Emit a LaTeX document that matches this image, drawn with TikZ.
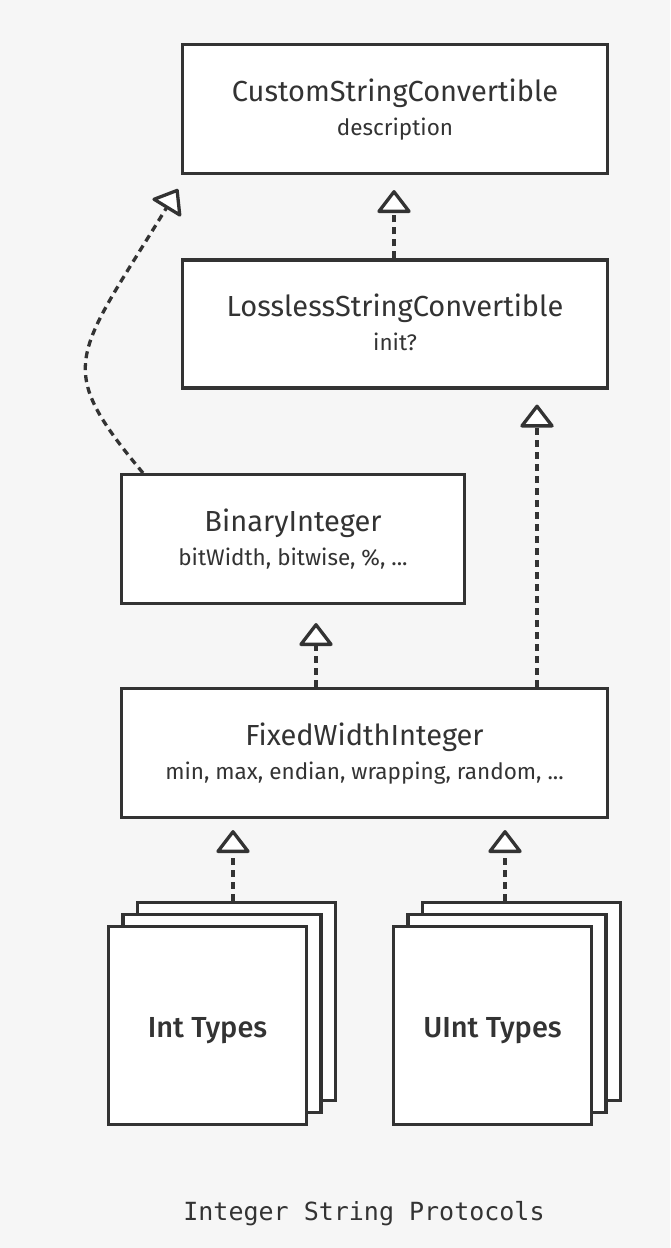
\documentclass[tikz,border=0pt]{standalone}
\usepackage{fontspec}
\setmainfont{Fira Sans}
\newfontfamily\medfont{Fira Sans}[UprightFont=* Medium]
\newfontfamily\capfont{DejaVu Sans Mono}
\usetikzlibrary{arrows.meta}
\definecolor{ink}{HTML}{333333}
\definecolor{bg}{HTML}{F6F6F6}
\tikzset{
  box/.style={draw=ink, line width=3.2pt, fill=white, inner sep=0pt},
  ttl/.style={anchor=base, text=ink, font=\fontsize{29}{32}\selectfont, inner sep=0pt},
  sub/.style={anchor=base, text=ink, font=\fontsize{22.5}{26}\selectfont, inner sep=0pt},
  typ/.style={anchor=base, text=ink, font=\medfont\fontsize{29}{32}\selectfont, inner sep=0pt},
  dep/.style={draw=ink, line width=3.3pt, dash pattern=on 7pt off 5pt,
    -{Triangle[width=36pt,length=24pt,fill=white,round]}}
}
\begin{document}
\begin{tikzpicture}[x=1pt,y=-1pt]
\fill[bg] (0,0) rectangle (670,1248);
\useasboundingbox (0,0) rectangle (670,1248);
% boxes
\node[box, minimum width=425pt, minimum height=129pt] (csc) at (395,109) {};
\node[box, minimum width=425pt, minimum height=128pt] (lsc) at (395,324) {};
\node[box, minimum width=343pt, minimum height=129pt] (bi) at (293,539) {};
\node[box, minimum width=486pt, minimum height=129pt] (fwi) at (364.5,753) {};
% stacked type boxes
\node[box, minimum width=198pt, minimum height=198pt] (intB) at (236.5,1001.5) {};
\node[box, minimum width=198pt, minimum height=198pt] (intM) at (222,1013.5) {};
\node[box, minimum width=198pt, minimum height=198pt] (intF) at (207.5,1025.5) {};
\node[box, minimum width=198pt, minimum height=198pt] (uintB) at (521.5,1001.5) {};
\node[box, minimum width=198pt, minimum height=198pt] (uintM) at (507,1013.5) {};
\node[box, minimum width=198pt, minimum height=198pt] (uintF) at (492.5,1025.5) {};
% texts
\node[ttl] (cscT) at (395,101) {CustomStringConvertible};
\node[sub] (cscS) at (395,135) {description};
\node[ttl] (lscT) at (395,316) {LosslessStringConvertible};
\node[sub] (lscS) at (395,350) {init?};
\node[ttl] (biT) at (293,531) {BinaryInteger};
\node[sub] (biS) at (293,565) {bitWidth, bitwise, \%, ...};
\node[ttl] (fwiT) at (364.5,745) {FixedWidthInteger};
\node[sub] (fwiS) at (364.5,779) {min, max, endian, wrapping, random, ...};
\node[typ] (intT) at (207.5,1037) {Int Types};
\node[typ] (uintT) at (492.5,1037) {UInt Types};
\node[anchor=base, text=ink, inner sep=0pt, font=\capfont\fontsize{25}{28}\selectfont] (cap) at (364,1220) {Integer String Protocols};
% helper x positions
\coordinate (x394) at (394,0);
\coordinate (x316) at (316,0);
\coordinate (x537) at (537,0);
\coordinate (x233) at (233,0);
\coordinate (x505) at (505,0);
\coordinate (bistart) at (143,473);
\coordinate (ctip) at (178,189);
% connectors
\draw[dep, shorten >=15pt] (lsc.north -| x394) -- (csc.south -| x394);
\draw[dep, shorten >=18pt] (fwi.north -| x316) -- (bi.south -| x316);
\draw[dep, shorten >=15pt] (fwi.north -| x537) -- (lsc.south -| x537);
\draw[dep, shorten >=11pt] (intB.north -| x233) -- (fwi.south -| x233);
\draw[dep, shorten >=11pt] (uintB.north -| x505) -- (fwi.south -| x505);
\draw[dep] (bistart) .. controls (53,365) and (74,359) .. (ctip);
\end{tikzpicture}
\end{document}
